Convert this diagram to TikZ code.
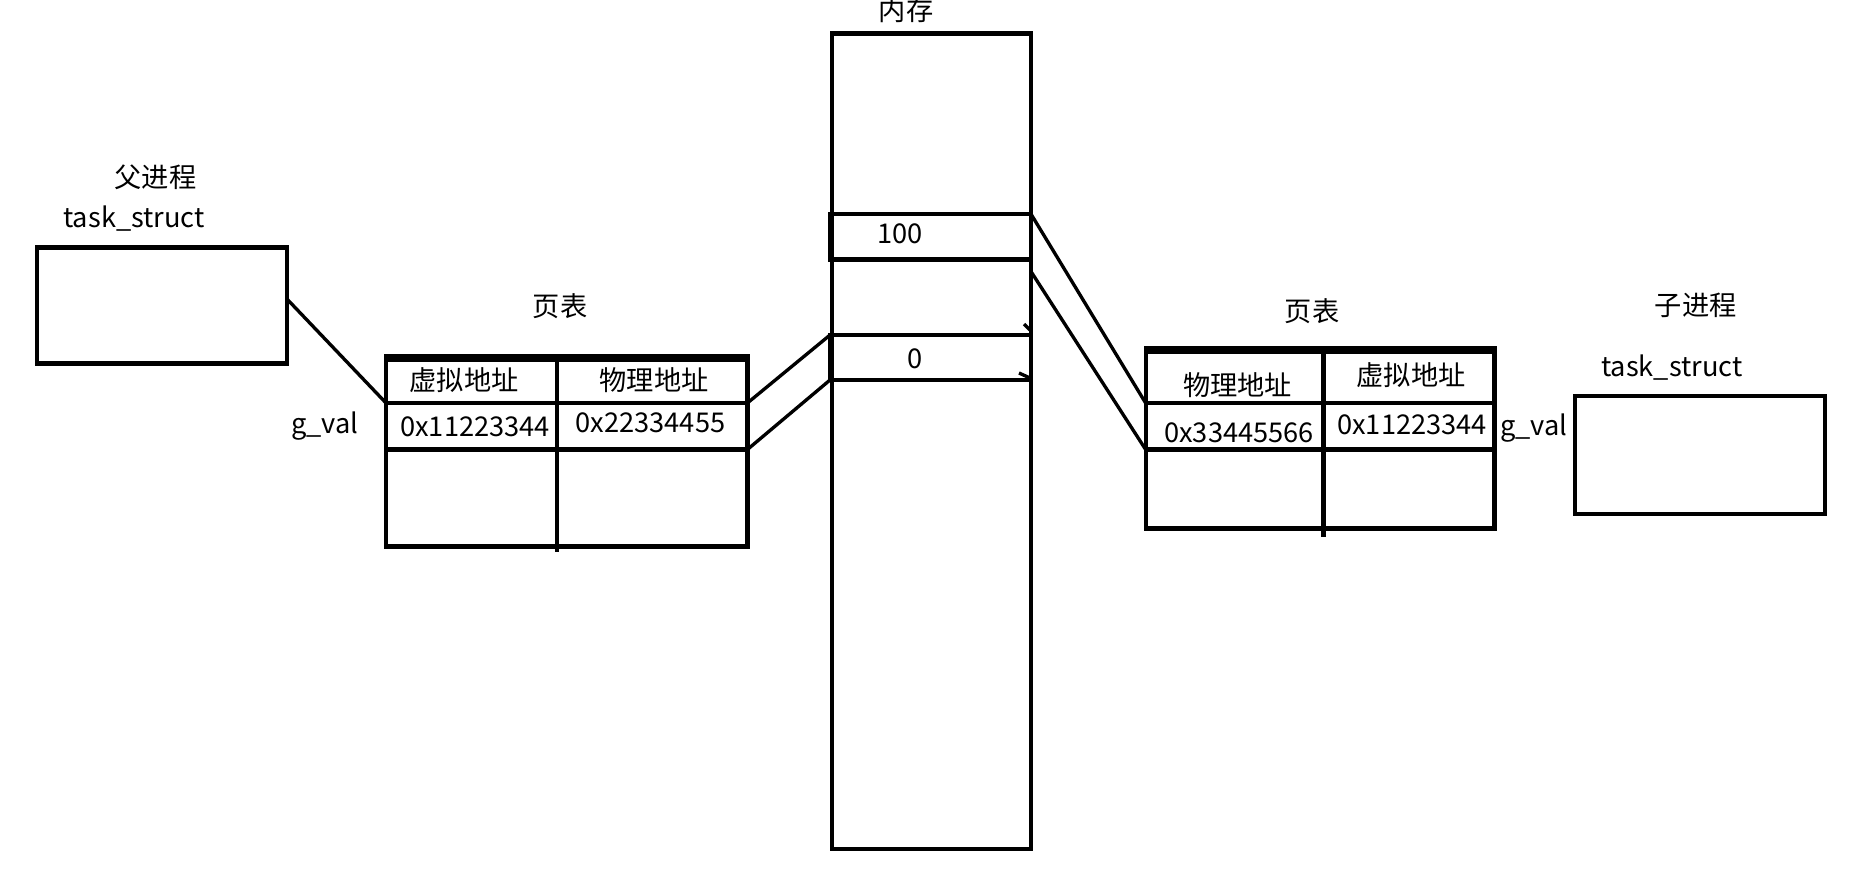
\documentclass[tikz,border=0pt]{standalone}
\usepackage{fontspec}
\setmainfont{Noto Sans CJK SC}
\usetikzlibrary{positioning}

\begin{document}
\begin{tikzpicture}[x=0.02cm, y=-0.02cm,
		box/.style={draw, line width=2.4pt, inner sep=0pt, outer sep=0pt, anchor=north west},
		cell/.style={draw, line width=2.4pt, inner sep=0pt, outer sep=0pt},
		lbl/.style={inner sep=0pt, font=\fontsize{15.5}{18}\selectfont},
		link/.style={line width=1.9pt}]
		\useasboundingbox (0,0) rectangle (1875,876);
		
		% Memory
		\node[box, minimum width=3.98cm, minimum height=16.31cm] (mem) at (832,33.5) {};
		\node[box, minimum width=4.02cm, minimum height=0.91cm] (m100) at (830,214) {};
		\node[box, minimum width=4.02cm, minimum height=0.9cm] (m0) at (830,335) {};
		\draw[link] (1024,324) -- (1030,330);
		\draw[link] (1019,373) -- (1030,378);
		
		% Parent and child task_struct
		\node[box, minimum width=5cm, minimum height=2.32cm] (ptask) at (37,247.5) {};
		\node[box, minimum width=5cm, minimum height=2.36cm] (ctask) at (1575,396) {};
		
		% Left page table
		\node[cell, anchor=north west, minimum width=3.42cm, minimum height=0.94cm] (lvh) at (386,356) {};
		\node[cell, minimum width=3.81cm, minimum height=0.94cm, right=0pt of lvh] (lph) {};
		\node[cell, minimum width=3.42cm, minimum height=0.93cm, below=0pt of lvh] (lv1) {};
		\node[cell, minimum width=3.81cm, minimum height=0.93cm, below=0pt of lph] (lp1) {};
		\node[cell, minimum width=3.42cm, minimum height=1.94cm, below=0pt of lv1] (lv2) {};
		\node[cell, minimum width=3.81cm, minimum height=1.94cm, below=0pt of lp1] (lp2) {};
		\draw[line width=4.5pt] ([yshift=-0.05cm]lvh.north west) -- ([yshift=-0.05cm]lph.north east);
		\draw[line width=2.4pt] (lv2.south east) -- ++(0,6);
		
		% Right page table
		\node[cell, anchor=north west, minimum width=3.56cm, minimum height=1.1cm] (rph) at (1145.6,348) {};
		\node[cell, minimum width=3.42cm, minimum height=1.1cm, right=0pt of rph] (rvh) {};
		\node[cell, minimum width=3.56cm, minimum height=0.93cm, below=0pt of rph] (rp1) {};
		\node[cell, minimum width=3.42cm, minimum height=0.93cm, below=0pt of rvh] (rv1) {};
		\node[cell, minimum width=3.56cm, minimum height=1.58cm, below=0pt of rp1] (rp2) {};
		\node[cell, minimum width=3.42cm, minimum height=1.58cm, below=0pt of rv1] (rv2) {};
		\draw[line width=4.5pt] ([yshift=-0.05cm]rph.north west) -- ([yshift=-0.05cm]rvh.north east);
		\draw[line width=2.4pt] (rp2.south east) -- ++(0,9);
		
		% Labels
		\foreach \nm/\x/\y/\t in {memlbl/906/10/内存, t100/900/234/100, t0/915/359/0,
			pname/155.5/177/父进程, ptitle/134/219/task\_struct, lpt/560/306/页表,
			lvht/464/380/虚拟地址, lpht/654/380/物理地址, lv1t/475/427/0x11223344,
			lp1t/650.5/423/0x22334455, lgv/325/426/g\_val, rpt/1312/311/页表,
			rpht/1237.7/385/物理地址, rvht/1411/375.5/虚拟地址, rp1t/1239/433/0x33445566,
			rv1t/1412/424.5/0x11223344, rgv/1534/428/g\_val, cname/1695.7/305/子进程,
			ctitle/1671.8/368/task\_struct} {
			\node[lbl] (\nm) at (\x,\y) {\t};
		}
		
		% Connectors
		\draw[link] ([yshift=0.13cm]ptask.east) -- (lv1.north west);
		\draw[link] (lp1.north east) -- (m0.north west);
		\draw[link] (lp1.south east) -- (m0.south west);
		\draw[link] (m100.north east) -- (rp1.north west);
		\draw[link] ([yshift=-0.24cm]m100.south east) -- (rp1.south west);
	\end{tikzpicture}
\end{document}
